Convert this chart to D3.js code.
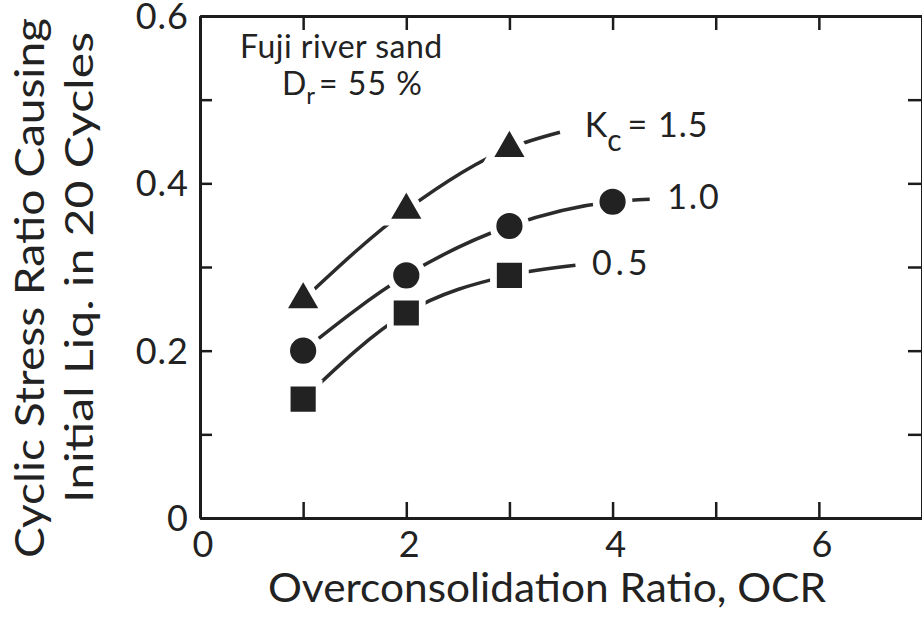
<!DOCTYPE html>
<html>
<head>
<meta charset="utf-8">
<script src="https://cdn.jsdelivr.net/npm/d3@7"></script>
<style>
  body { margin: 0; background: #fff; }
  svg { display: block; }
  text { font-family: "Lato", "Open Sans", "DejaVu Sans", sans-serif; fill: #222; }
</style>
</head>
<body>
<script>
// data
const ocr = [1, 2, 3, 4];
const csrKc15 = [0.261, 0.368, 0.442];
const csrKc10 = [0.200, 0.290, 0.349, 0.378];
const csrKc05 = [0.142, 0.245, 0.290];

// end of the short leader line running to each series label
const leaderEnd = { kc15: [3.49, 0.461], kc10: [4.36, 0.381], kc05: [3.64, 0.302] };

const xTickValues = [0, 1, 2, 3, 4, 5, 6, 7];
const xTickLabels = [0, 2, 4, 6];
const yTickValues = [0, 0.1, 0.2, 0.3, 0.4, 0.5, 0.6];
const yTickLabels = [0, 0.2, 0.4, 0.6];

const width = 922;
const height = 624;
const ink = "#1c1c1c";

const svg = d3.select("body").append("svg")
  .attr("width", width)
  .attr("height", height);

const x = d3.scaleLinear().domain([0, 7]).range([200, 922]);
const y = d3.scaleLinear().domain([0, 0.6]).range([518, 16]);

// frame with inward ticks on all four sides
const tick = 14;
const frame = svg.append("g");
const axes = [
  d3.axisBottom(x).tickValues(xTickValues).tickSizeInner(-tick - 2).tickSizeOuter(0).tickFormat(""),
  d3.axisTop(x).tickValues(xTickValues).tickSizeInner(-tick).tickSizeOuter(0).tickFormat(""),
  d3.axisLeft(y).tickValues(yTickValues).tickSizeInner(-tick + 2).tickSizeOuter(0).tickFormat(""),
  d3.axisRight(y).tickValues(yTickValues).tickSizeInner(-tick).tickSizeOuter(0).tickFormat("")
];
const shifts = [
  `translate(0,${y(0)})`, `translate(0,${y(0.6)})`,
  `translate(${x(0)},0)`, `translate(${x(7)},0)`
];
axes.forEach((a, i) => {
  const g = frame.append("g").attr("transform", shifts[i]).call(a);
  g.select(".domain").attr("stroke", ink).attr("stroke-width", 3);
  g.selectAll(".tick line").attr("stroke", ink).attr("stroke-width", 2.5);
});

// tick labels
svg.append("g").selectAll("text")
  .data(xTickLabels)
  .join("text")
  .attr("x", d => x(d) + 3)
  .attr("y", 557)
  .attr("text-anchor", "middle")
  .attr("font-size", 36)
  .text(d => d);

svg.append("g").selectAll("text")
  .data(yTickLabels)
  .join("text")
  .attr("x", 189)
  .attr("y", d => y(d) + 13)
  .attr("text-anchor", "end")
  .attr("font-size", 36)
  .attr("letter-spacing", 1)
  .text(d => d === 0 ? "0" : d3.format(".1f")(d));

// axis titles
svg.append("text")
  .attr("x", 268)
  .attr("y", 602)
  .attr("font-size", 41)
  .attr("textLength", 558)
  .attr("lengthAdjust", "spacingAndGlyphs")
  .text("Overconsolidation Ratio, OCR");

svg.append("text")
  .attr("transform", "translate(44,558) rotate(-90)")
  .attr("font-size", 41)
  .attr("textLength", 540)
  .attr("lengthAdjust", "spacingAndGlyphs")
  .text("Cyclic Stress Ratio Causing");

svg.append("text")
  .attr("transform", "translate(93,503) rotate(-90)")
  .attr("font-size", 39)
  .attr("textLength", 471)
  .attr("lengthAdjust", "spacingAndGlyphs")
  .text("Initial Liq. in 20 Cycles");

// curves
const line = d3.line()
  .x(d => x(d[0]))
  .y(d => y(d[1]))
  .curve(d3.curveMonotoneX);

const series = [
  { key: "kc15", vals: csrKc15, symbol: d3.symbolTriangle, size: 330 },
  { key: "kc10", vals: csrKc10, symbol: d3.symbolCircle, size: 480 },
  { key: "kc05", vals: csrKc05, symbol: d3.symbolSquare, size: 560 }
];

series.forEach(s => {
  const pts = s.vals.map((v, i) => [ocr[i], v]);
  pts.push(leaderEnd[s.key]);
  s.pts = pts;
  svg.append("path")
    .attr("d", line(pts))
    .attr("fill", "none")
    .attr("stroke", "#2b2b2b")
    .attr("stroke-width", 3.5);
});

// white halo leaves a gap between curve and marker
series.forEach(s => {
  const g = svg.append("g");
  const pts = s.pts.slice(0, s.vals.length);
  g.selectAll(".halo")
    .data(pts)
    .join("path")
    .attr("transform", d => `translate(${x(d[0])},${y(d[1])})`)
    .attr("d", d3.symbol(s.symbol, s.size)())
    .attr("fill", "#fff")
    .attr("stroke", "#fff")
    .attr("stroke-width", 15);
  g.selectAll(".mark")
    .data(pts)
    .join("path")
    .attr("transform", d => `translate(${x(d[0])},${y(d[1])})`)
    .attr("d", d3.symbol(s.symbol, s.size)())
    .attr("fill", "#222")
    .attr("stroke", "#222")
    .attr("stroke-width", 1.5);
});

// series labels
const kLabel = svg.append("text")
  .attr("x", x(3.73))
  .attr("y", y(0.455))
  .attr("font-size", 34);
kLabel.append("tspan").text("K");
kLabel.append("tspan").attr("dy", 14).attr("font-size", 30).text("c");
kLabel.append("tspan").attr("dy", -14).attr("dx", 6).attr("letter-spacing", 1).text("= 1.5");

svg.append("text")
  .attr("x", x(4.53))
  .attr("y", y(0.369))
  .attr("font-size", 34)
  .attr("letter-spacing", 2)
  .text("1.0");

svg.append("text")
  .attr("x", x(3.8))
  .attr("y", y(0.29))
  .attr("font-size", 34)
  .attr("letter-spacing", 4)
  .text("0.5");

// sample description
svg.append("text")
  .attr("x", 240)
  .attr("y", 58)
  .attr("font-size", 32)
  .attr("letter-spacing", 0.5)
  .text("Fuji river sand");

const drLabel = svg.append("text")
  .attr("x", 282)
  .attr("y", 95)
  .attr("font-size", 32);
drLabel.append("tspan").text("D");
drLabel.append("tspan").attr("dy", 9).attr("font-size", 24).text("r");
drLabel.append("tspan").attr("dy", -9).attr("dx", 4).attr("letter-spacing", 1).text("= 55 %");
</script>
</body>
</html>
